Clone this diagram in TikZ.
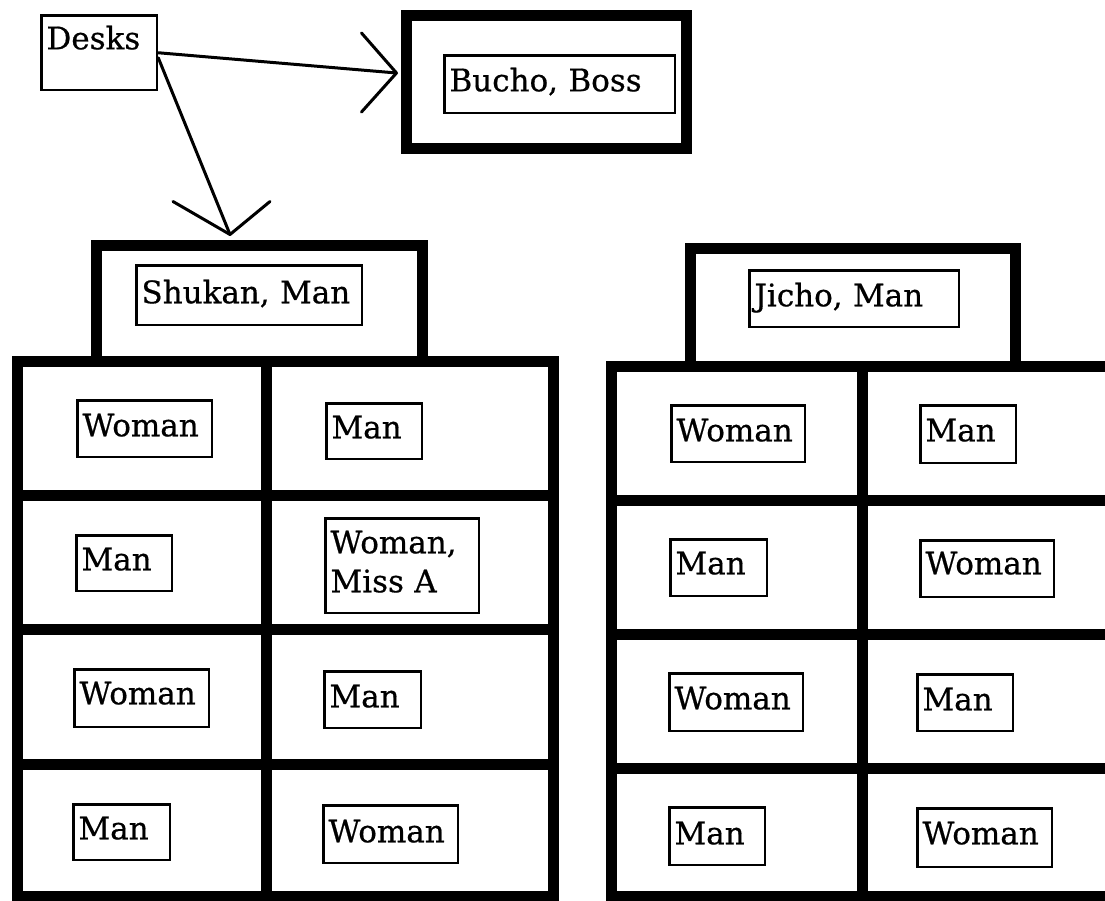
\documentclass[tikz,border=0pt]{standalone}
\usepackage{fontspec}
\setmainfont{DejaVu Serif}[FakeBold=0.6]
\usetikzlibrary{calc}
% #1 name, #2 x1, #3 y1, #4 x2, #5 y2 (outer edges), #6 baseline y, #7 text
\newcommand\txtbox[7]{%
  \pgfmathsetmacro\tbW{#4-#2-12.5}%
  \pgfmathsetmacro\tbH{#6-#3-1.25}%
  \pgfmathsetmacro\tbD{#5-#6-1.25}%
  \node[lbl, text width=\tbW pt, text height=\tbH pt, text depth=\tbD pt] (#1) at (#2+1.25,#3+1.25) {#7};%
}
\begin{document}
\begin{tikzpicture}[x=1pt,y=-1pt,
  lbl/.style={draw, line width=2.5pt, inner xsep=5pt, inner ysep=0pt, align=left,
    anchor=north west, font=\fontsize{31}{39}\selectfont},
  frm/.style={draw, line width=11pt, inner sep=0pt},
  gridline/.style={line width=11pt},
  conn/.style={line width=3pt, line cap=round, line join=round}]
\useasboundingbox (0,0) rectangle (1105,901);
\fill[white] (0,0) rectangle (1105,901);
\clip (0,0) rectangle (1105,901);

% thick frames
\node[frm, minimum width=280pt, minimum height=133pt] (bucho) at (546,82.5) {};
\node[frm, minimum width=325.5pt, minimum height=115pt] (shukan) at (259.25,303.5) {};
\node[frm, minimum width=325pt, minimum height=117pt] (jicho) at (852.5,307.5) {};

% left desk block
\draw[gridline] (17.5,361) rectangle (553.5,896);
\draw[gridline] (266,361) -- (266,896);
\foreach \yy in {495.5,629.5,764.5} \draw[gridline] (17.5,\yy) -- (553.5,\yy);

% right desk block
\draw[gridline] (611.5,366) rectangle (1115,896);
\draw[gridline] (862,366) -- (862,896);
\foreach \yy in {500,634,768.5} \draw[gridline] (611.5,\yy) -- (1115,\yy);

% labels
\txtbox{desks}{39}{13}{157}{90}{48}{Desks}
\txtbox{buchoT}{442}{53}{675}{113}{90}{Bucho, Boss}
\txtbox{shukanT}{134}{263}{362}{325}{302}{Shukan, Man}
\txtbox{jichoT}{747}{268}{959}{327}{305}{Jicho, Man}

\txtbox{l11}{75}{398}{212}{457}{435}{Woman}
\txtbox{l12}{324}{401}{422}{459}{437}{Man}
\txtbox{l21}{74}{533}{172}{591}{569}{Man}
\txtbox{l22}{323}{516}{479}{613}{552}{Woman,\\Miss A}
\txtbox{l31}{72}{667}{209}{727}{703}{Woman}
\txtbox{l32}{322}{669}{421}{728}{706}{Man}
\txtbox{l41}{71}{802}{170}{860}{838}{Man}
\txtbox{l42}{321}{803}{458}{863}{841}{Woman}

\txtbox{r11}{669}{403}{805}{462}{440}{Woman}
\txtbox{r12}{918}{403}{1016}{463}{440}{Man}
\txtbox{r21}{668}{537}{767}{596}{573}{Man}
\txtbox{r22}{918}{538}{1054}{597}{573}{Woman}
\txtbox{r31}{667}{671}{803}{731}{708}{Woman}
\txtbox{r32}{915}{672}{1013}{731}{709}{Man}
\txtbox{r41}{667}{805}{765}{865}{843}{Man}
\txtbox{r42}{915}{806}{1052}{867}{843}{Woman}

% connectors
\coordinate (tipB) at ($(bucho.west)+(-4,-9.5)$);
\coordinate (tipS) at ($(shukan.north)+(-29.25,-6)$);
\draw[conn] (desks.east) -- (tipB);
\draw[conn] ($(tipB)+(-35,-40)$) -- (tipB) -- ($(tipB)+(-35,39)$);
\draw[conn] ([yshift=-5pt]desks.east) -- (tipS);
\draw[conn] ($(tipS)+(-57,-33)$) -- (tipS) -- ($(tipS)+(40,-33)$);
\end{tikzpicture}
\end{document}
